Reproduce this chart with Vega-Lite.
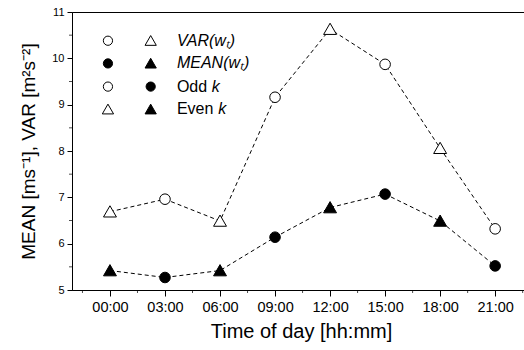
{
  "$schema": "https://vega.github.io/schema/vega-lite/v6.json",
  "width": 458,
  "height": 278,
  "autosize": "none",
  "padding": {"left": 72, "top": 12, "right": 0, "bottom": 60},
  "background": "white",
  "config": {
    "view": {"stroke": "black", "strokeWidth": 1},
    "font": "Liberation Sans",
    "axis": {"grid": false, "domainColor": "black", "tickColor": "black", "labelColor": "black", "titleColor": "black", "labelFont": "Liberation Sans", "titleFont": "Liberation Sans", "titleFontWeight": "normal"}
  },
  "datasets": {
    "main": [
      {"hour": 0, "value": 6.69, "series": "VAR", "parity": "even"},
      {"hour": 3, "value": 6.96, "series": "VAR", "parity": "odd"},
      {"hour": 6, "value": 6.49, "series": "VAR", "parity": "even"},
      {"hour": 9, "value": 9.16, "series": "VAR", "parity": "odd"},
      {"hour": 12, "value": 10.63, "series": "VAR", "parity": "even"},
      {"hour": 15, "value": 9.87, "series": "VAR", "parity": "odd"},
      {"hour": 18, "value": 8.06, "series": "VAR", "parity": "even"},
      {"hour": 21, "value": 6.32, "series": "VAR", "parity": "odd"},
      {"hour": 0, "value": 5.42, "series": "MEAN", "parity": "even"},
      {"hour": 3, "value": 5.27, "series": "MEAN", "parity": "odd"},
      {"hour": 6, "value": 5.42, "series": "MEAN", "parity": "even"},
      {"hour": 9, "value": 6.14, "series": "MEAN", "parity": "odd"},
      {"hour": 12, "value": 6.78, "series": "MEAN", "parity": "even"},
      {"hour": 15, "value": 7.07, "series": "MEAN", "parity": "odd"},
      {"hour": 18, "value": 6.49, "series": "MEAN", "parity": "even"},
      {"hour": 21, "value": 5.52, "series": "MEAN", "parity": "odd"}
    ],
    "legendMarks": [
      {"hour": -0.11, "value": 10.38, "series": "VAR", "parity": "odd"},
      {"hour": 2.22, "value": 10.38, "series": "VAR", "parity": "even"},
      {"hour": -0.11, "value": 9.89, "series": "MEAN", "parity": "odd"},
      {"hour": 2.22, "value": 9.89, "series": "MEAN", "parity": "even"},
      {"hour": -0.11, "value": 9.39, "series": "VAR", "parity": "odd"},
      {"hour": 2.22, "value": 9.39, "series": "MEAN", "parity": "odd"},
      {"hour": -0.11, "value": 8.9, "series": "VAR", "parity": "even"},
      {"hour": 2.22, "value": 8.9, "series": "MEAN", "parity": "even"}
    ],
    "legendText": [
      {"hour": 3.65, "value": 10.38, "label": "VAR(wₜ)", "style": "italic"},
      {"hour": 3.65, "value": 9.89, "label": "MEAN(wₜ)", "style": "italic"},
      {"hour": 3.65, "value": 9.39, "label": "Odd", "style": "normal"},
      {"hour": 5.55, "value": 9.39, "label": "k", "style": "italic"},
      {"hour": 3.65, "value": 8.9, "label": "Even", "style": "normal"},
      {"hour": 5.9, "value": 8.9, "label": "k", "style": "italic"}
    ]
  },
  "layer": [
    {
      "data": {"name": "main"},
      "mark": {"type": "line", "color": "black", "strokeWidth": 1, "strokeDash": [4, 3], "clip": true},
      "encoding": {
        "x": {"field": "hour", "type": "quantitative", "scale": {"domain": [-2.07, 22.9], "nice": false, "zero": false},
          "axis": {"values": [0, 3, 6, 9, 12, 15, 18, 21], "labelExpr": "(datum.value < 10 ? '0' : '') + datum.value + ':00'", "title": "Time of day [hh:mm]", "titleFontSize": 20, "labelFontSize": 14.5, "tickSize": 6, "labelPadding": 4, "titlePadding": 8, "domain": true}},
        "y": {"field": "value", "type": "quantitative", "scale": {"domain": [5, 11], "nice": false, "zero": false},
          "axis": {"values": [5, 6, 7, 8, 9, 10, 11], "title": "MEAN [ms⁻¹], VAR [m²s⁻²]", "titleFontSize": 19, "labelFontSize": 11, "tickSize": 5, "labelPadding": 3, "titlePadding": 13}},
        "detail": {"field": "series"}
      }
    },
    {
      "data": {"name": "main"},
      "mark": {"type": "point", "stroke": "black", "strokeWidth": 1, "opacity": 1, "filled": false},
      "encoding": {
        "x": {"field": "hour", "type": "quantitative"},
        "y": {"field": "value", "type": "quantitative"},
        "shape": {"field": "parity", "type": "nominal", "scale": {"domain": ["odd", "even"], "range": ["circle", "M0,-1.12L1.22,1L-1.22,1Z"]}, "legend": null},
        "fill": {"field": "series", "type": "nominal", "scale": {"domain": ["VAR", "MEAN"], "range": ["white", "black"]}, "legend": null},
        "size": {"value": 112}
      }
    },
    {
      "data": {"name": "legendMarks"},
      "mark": {"type": "point", "stroke": "black", "strokeWidth": 1, "opacity": 1, "filled": false},
      "encoding": {
        "x": {"field": "hour", "type": "quantitative"},
        "y": {"field": "value", "type": "quantitative"},
        "shape": {"field": "parity", "type": "nominal", "legend": null},
        "fill": {"field": "series", "type": "nominal", "legend": null},
        "size": {"value": 85}
      }
    },
    {
      "data": {"name": "legendText"},
      "transform": [{"filter": "datum.style === 'italic'"}],
      "mark": {"type": "text", "align": "left", "baseline": "middle", "fontSize": 16, "fontStyle": "italic", "color": "black", "font": "Liberation Sans"},
      "encoding": {
        "x": {"field": "hour", "type": "quantitative"},
        "y": {"field": "value", "type": "quantitative"},
        "text": {"field": "label"}
      }
    },
    {
      "data": {"name": "legendText"},
      "transform": [{"filter": "datum.style === 'normal'"}],
      "mark": {"type": "text", "align": "left", "baseline": "middle", "fontSize": 16, "fontStyle": "normal", "color": "black", "font": "Liberation Sans"},
      "encoding": {
        "x": {"field": "hour", "type": "quantitative"},
        "y": {"field": "value", "type": "quantitative"},
        "text": {"field": "label"}
      }
    },
    {
      "data": {"values": [{"hour": -1.5}, {"hour": 1.5}, {"hour": 4.5}, {"hour": 7.5}, {"hour": 10.5}, {"hour": 13.5}, {"hour": 16.5}, {"hour": 19.5}, {"hour": 22.5}]},
      "mark": {"type": "tick", "orient": "vertical", "color": "black", "size": 3, "thickness": 1, "yOffset": 1.5, "clip": false},
      "encoding": {
        "x": {"field": "hour", "type": "quantitative"},
        "y": {"datum": 5}
      }
    },
    {
      "data": {"values": [{"v": 5.5}, {"v": 6.5}, {"v": 7.5}, {"v": 8.5}, {"v": 9.5}, {"v": 10.5}]},
      "mark": {"type": "tick", "orient": "horizontal", "color": "black", "size": 3, "thickness": 1, "xOffset": -1.5, "clip": false},
      "encoding": {
        "y": {"field": "v", "type": "quantitative"},
        "x": {"datum": -2.07}
      }
    }
  ]
}
